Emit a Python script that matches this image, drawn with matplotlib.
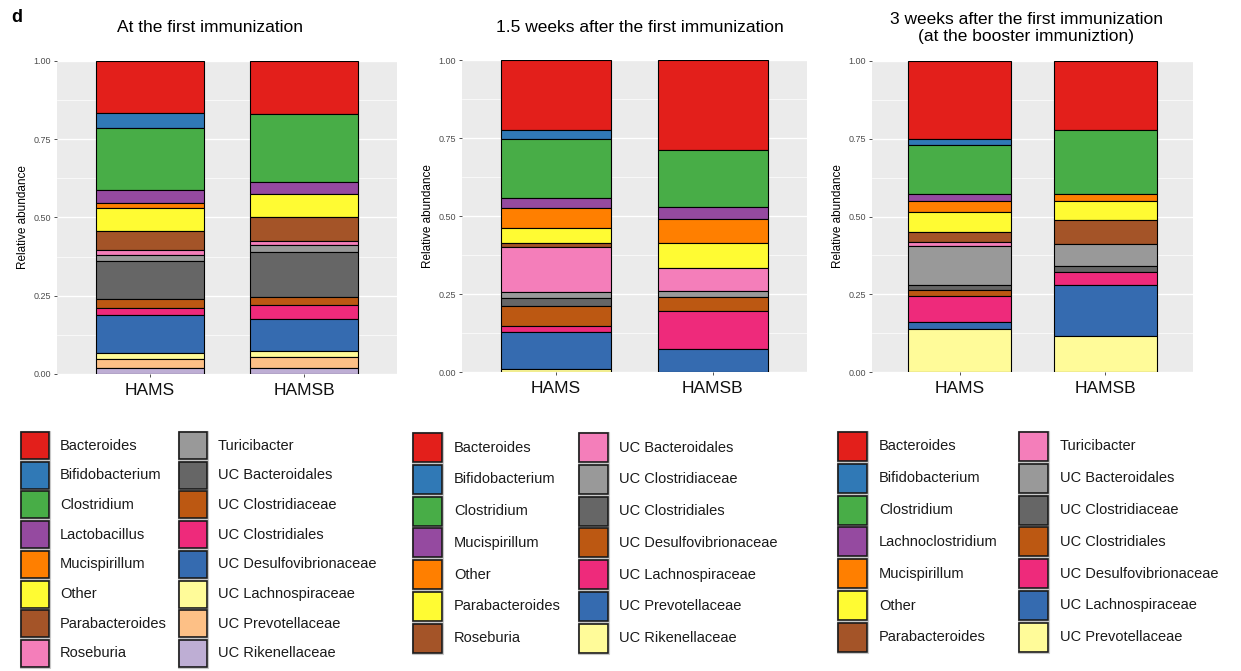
import matplotlib
matplotlib.use('Agg')
import matplotlib.pyplot as plt
from matplotlib.patches import Rectangle
import numpy as np

plt.rcParams['font.family'] = ['Liberation Sans', 'DejaVu Sans']

groups = ['HAMS', 'HAMSB']

# panel 1 - at the first immunization
taxa_t0 = ['Bacteroides', 'Bifidobacterium', 'Clostridium', 'Lactobacillus',
           'Mucispirillum', 'Other', 'Parabacteroides', 'Roseburia',
           'Turicibacter', 'UC Bacteroidales', 'UC Clostridiaceae',
           'UC Clostridiales', 'UC Desulfovibrionaceae', 'UC Lachnospiraceae',
           'UC Prevotellaceae', 'UC Rikenellaceae']
hams_t0 = [0.165, 0.048, 0.199, 0.043, 0.014, 0.073, 0.063, 0.014,
           0.019, 0.121, 0.031, 0.020, 0.122, 0.021, 0.029, 0.018]
hamsb_t0 = [0.170, 0.0, 0.216, 0.039, 0.0, 0.072, 0.078, 0.012,
            0.022, 0.144, 0.027, 0.045, 0.102, 0.018, 0.035, 0.020]

# panel 2 - 1.5 weeks after
taxa_t1 = ['Bacteroides', 'Bifidobacterium', 'Clostridium', 'Mucispirillum',
           'Other', 'Parabacteroides', 'Roseburia', 'UC Bacteroidales',
           'UC Clostridiaceae', 'UC Clostridiales', 'UC Desulfovibrionaceae',
           'UC Lachnospiraceae', 'UC Prevotellaceae', 'UC Rikenellaceae']
hams_t1 = [0.224, 0.029, 0.190, 0.030, 0.066, 0.047, 0.012,
           0.144, 0.022, 0.023, 0.064, 0.021, 0.118, 0.010]
hamsb_t1 = [0.289, 0.0, 0.181, 0.041, 0.074, 0.082, 0.0,
            0.072, 0.021, 0.0, 0.046, 0.121, 0.073, 0.0]

# panel 3 - 3 weeks after (booster)
taxa_t2 = ['Bacteroides', 'Bifidobacterium', 'Clostridium', 'Lachnoclostridium',
           'Mucispirillum', 'Other', 'Parabacteroides', 'Turicibacter',
           'UC Bacteroidales', 'UC Clostridiaceae', 'UC Clostridiales',
           'UC Desulfovibrionaceae', 'UC Lachnospiraceae', 'UC Prevotellaceae']
hams_t2 = [0.251, 0.020, 0.157, 0.023, 0.035, 0.064, 0.031,
           0.013, 0.127, 0.014, 0.021, 0.082, 0.023, 0.139]
hamsb_t2 = [0.221, 0.0, 0.208, 0.0, 0.020, 0.063, 0.075,
            0.0, 0.073, 0.018, 0.0, 0.042, 0.163, 0.117]

titles = ['At the first immunization',
          '1.5 weeks after the first immunization',
          '3 weeks after the first immunization\n(at the booster immuniztion)']

# Set1 followed by reversed Accent (as rendered)
palette = ['#E31F1B', '#3079B6', '#48AD47', '#954AA0', '#FF7F00', '#FFFB33',
           '#A45428', '#F47EBA', '#999999', '#666666', '#BC5812', '#EE2A7B',
           '#356BB0', '#FFFB99', '#FDC086', '#BEAED4']

W, H = 1241, 671


def fx(px):
    return px / W


def fy(py):
    return 1 - py / H


def px_axes(fig, x0, y0, x1, y1):
    return fig.add_axes([fx(x0), fy(y1), (x1 - x0) / W, (y1 - y0) / H])


def draw_panel(ax, taxa, series):
    ax.set_facecolor('#EBEBEB')
    for s in ['top', 'right', 'bottom', 'left']:
        ax.spines[s].set_visible(False)
    ax.set_yticks([0.125, 0.375, 0.625, 0.875], minor=True)
    ax.grid(which='major', color='white', lw=1.0)
    ax.grid(which='minor', axis='y', color='white', lw=0.5)
    ax.set_axisbelow(True)
    x = np.arange(1, len(groups) + 1)
    for i, vals in enumerate(series):
        vals = np.array(vals)
        tops = 1 - np.concatenate([[0], np.cumsum(vals)[:-1]])
        for k, v in enumerate(vals):
            if v <= 0:
                continue
            ax.bar(x[i], v, bottom=tops[k] - v, width=0.7, color=palette[k],
                   edgecolor='black', linewidth=0.8, zorder=3)
    ax.set_xlim(0.4, 2.6)
    ax.set_ylim(0, 1)
    ax.set_xticks(x)
    ax.set_xticklabels(groups, fontsize=12.5, color='#111111')
    ax.set_yticks([0, 0.25, 0.5, 0.75, 1.0])
    ax.set_yticklabels(['0.00', '0.25', '0.50', '0.75', '1.00'],
                       fontsize=6.5, color='#4D4D4D')
    ax.tick_params(axis='both', which='major', length=2.5, width=0.6,
                   color='#333333', pad=2)
    ax.tick_params(axis='x', pad=4)
    ax.tick_params(which='minor', length=0)
    ax.set_ylabel('Relative abundance', fontsize=8.5, labelpad=3)


def draw_legend(fig, taxa, col_x, text_x, top, pitch, sw, sh):
    nrow = int(np.ceil(len(taxa) / 2))
    for k, name in enumerate(taxa):
        c = k // nrow
        r = k % nrow
        y = top + r * pitch
        # light key background frame
        fig.add_artist(Rectangle((fx(col_x[c] - 1), fy(y + sh + 1)),
                                 (sw + 2) / W, (sh + 2) / H,
                                 transform=fig.transFigure,
                                 facecolor='none', edgecolor='#C8C8C8',
                                 linewidth=0.8))
        fig.add_artist(Rectangle((fx(col_x[c]), fy(y + sh)), sw / W, sh / H,
                                 transform=fig.transFigure,
                                 facecolor=palette[k], edgecolor='#1A1A1A',
                                 linewidth=1.2))
        fig.text(fx(text_x[c]), fy(y + sh / 2), name, fontsize=10.5,
                 ha='left', va='center', color='#1A1A1A')


fig = plt.figure(figsize=(W / 100, H / 100), dpi=100)

ax1 = px_axes(fig, 57, 61, 397, 374)
draw_panel(ax1, taxa_t0, [hams_t0, hamsb_t0])
ax2 = px_axes(fig, 462, 60, 807, 372)
draw_panel(ax2, taxa_t1, [hams_t1, hamsb_t1])
ax3 = px_axes(fig, 872, 61, 1193, 372)
draw_panel(ax3, taxa_t2, [hams_t2, hamsb_t2])

fig.text(fx(210), fy(27), titles[0], fontsize=12.5, ha='center', va='center')
fig.text(fx(640), fy(27), titles[1], fontsize=12.5, ha='center', va='center')
fig.text(fx(1026), fy(28), titles[2], fontsize=12.5, ha='center', va='center',
         linespacing=1.2)
fig.text(fx(11), fy(18), 'd', fontsize=13, fontweight='bold', ha='left',
         va='center')

draw_legend(fig, taxa_t0, [21, 179], [60, 218], 432, 29.7, 28, 27)
draw_legend(fig, taxa_t1, [413, 579], [454, 619], 433, 31.8, 29, 29)
draw_legend(fig, taxa_t2, [838, 1019], [879, 1060], 432, 31.8, 29, 29)

fig.savefig('out.png', dpi=100)
